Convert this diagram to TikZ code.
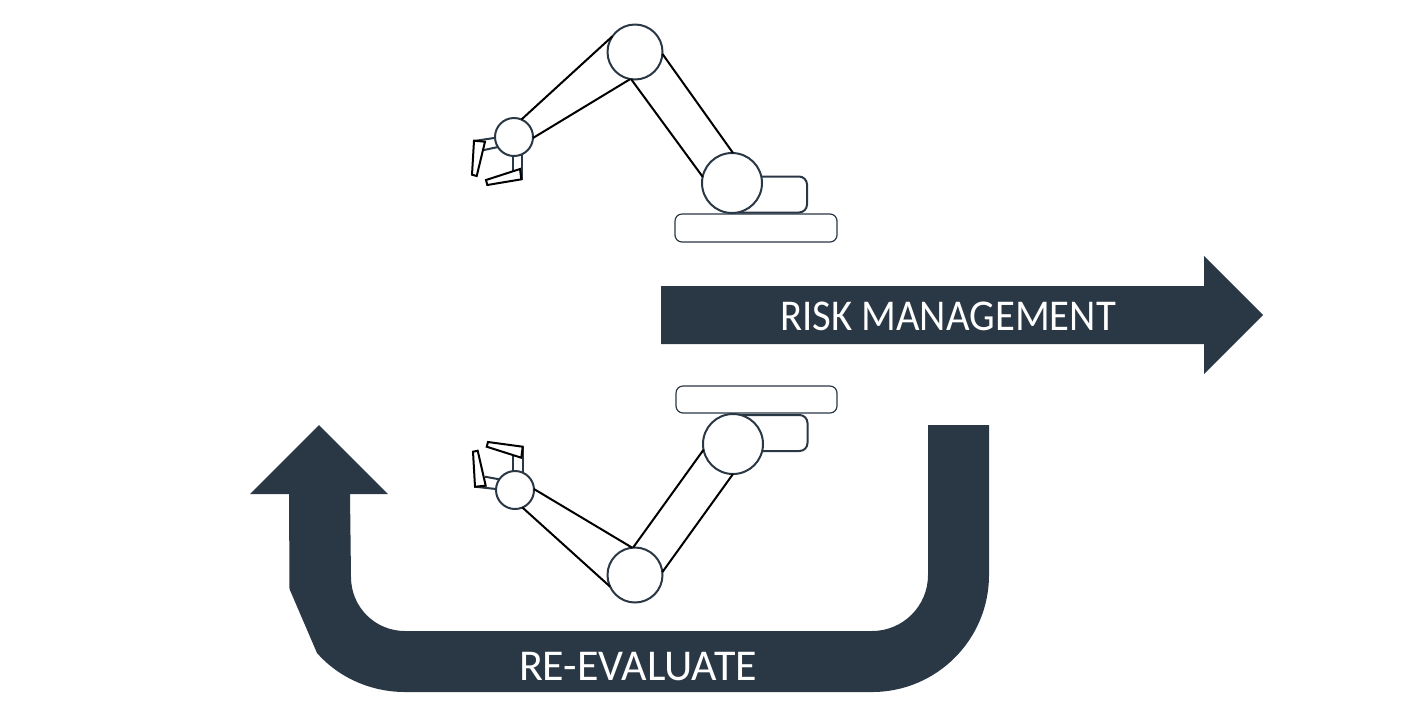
\documentclass[tikz,border=0pt]{standalone}
\usepackage{fontspec}
\setmainfont{Carlito}
\definecolor{slate}{HTML}{2A3744}
\tikzset{
    joint/.style={circle, draw=slate, fill=white, line width=1pt, inner sep=0pt, outer sep=0pt},
    plate/.style={rectangle, rounded corners=3.5pt, draw=slate, line width=0.6pt, inner sep=0pt, outer sep=0pt, minimum width=#1, minimum height=14pt},
    hub/.style={rectangle, rounded corners=4pt, draw=slate, fill=white, line width=1pt, inner sep=0pt, outer sep=0pt, minimum width=38.5pt, minimum height=18pt},
    link/.style={line width=1pt, black},
    finger/.style={line width=1pt, black, fill=white, line join=miter},
    stub/.style={line width=1pt, slate},
    label/.style={text=white, font=\fontsize{22}{24}\selectfont, inner sep=0pt}
}
\begin{document}
\begin{tikzpicture}[x=0.5pt, y=-0.5pt]
    \useasboundingbox(0, 0) rectangle (1428, 725);
    % big arrows
    \fill[slate](661, 286)--(1204, 286)--(1204, 256)--(1263, 315)--(1204, 374)--(1204, 344)--(661, 344)--cycle;
    \fill[slate](928, 425)--(989, 425)--(989, 575) .. controls (989, 639.6) and (936.6, 692) .. (872, 692)
        --(405, 692) .. controls (371.5, 692) and (339, 678) .. (317, 653)--(289.5, 589)--(289, 494)--(250, 494)
        --(319, 425)--(388, 494)--(350, 494)--(351, 577) .. controls (351, 607) and (375, 631) .. (405, 631)
        --(872, 631) .. controls (903, 631) and (928, 606) .. (928, 575)--cycle;
    \node[label](risk)at(948, 316){\addfontfeature{FakeStretch=0.925}RISK MANAGEMENT};
    \node[label](again)at(638, 667){RE-EVALUATE};
    % upper robot
    \node[plate=81pt](topplate)at(756, 228){};
    \node[hub](tophub)at(768.5, 194.5){};
    \node[joint, minimum size=30pt](topbase)at(732, 183){};
    \node[joint, minimum size=27.5pt](topshoulder)at(635, 52){};
    \draw[stub](494, 138)--(474, 141);
    \draw[stub](498, 147)--(484, 150);
    \draw[stub](512.7, 155)--(512.7, 171);
    \draw[stub](522.3, 154)--(522.3, 180);
    \node[joint, minimum size=19pt](topwrist)at(514, 137){};
    \draw[link](topshoulder.145)--(topwrist.67);
    \draw[link](topshoulder.260)--(topwrist.-3);
    \draw[link](topshoulder.-4)--(topbase.88);
    \draw[link](topshoulder.262)--(topbase.168);
    \draw[finger](474, 140.7)--(485, 141.7)--(476.7, 176)--(472, 174.7)--cycle;
    \draw[finger](486, 180)--(520, 169)--(521.3, 179.3)--(487.3, 185)--cycle;
    % lower robot
    \node[plate=80.5pt, minimum height=13.5pt](lowplate)at(756.5, 399.5){};
    \node[hub](lowhub)at(769, 433){};
    \node[joint, minimum size=30pt](lowbase)at(733, 444){};
    \node[joint, minimum size=27.5pt](lowshoulder)at(635, 575){};
    \draw[stub](499.3, 479.3)--(485, 476.7);
    \draw[stub](496, 489)--(475, 486.7);
    \draw[stub](513, 471)--(513, 455);
    \draw[stub](522.7, 471.7)--(522.7, 447);
    \node[joint, minimum size=19pt](lowwrist)at(515, 490){};
    \draw[link](lowbase.191)--(lowshoulder.94);
    \draw[link](lowbase.270)--(lowshoulder.6);
    \draw[link](lowshoulder.96)--(lowwrist.3);
    \draw[link](lowshoulder.205)--(lowwrist.293);
    \draw[finger](488, 442)--(522.7, 446.7)--(521.3, 457.7)--(486.7, 446.7)--cycle;
    \draw[finger](473, 451.7)--(477.7, 450.7)--(485.7, 485.7)--(475, 486.7)--cycle;
\end{tikzpicture}
\end{document}
